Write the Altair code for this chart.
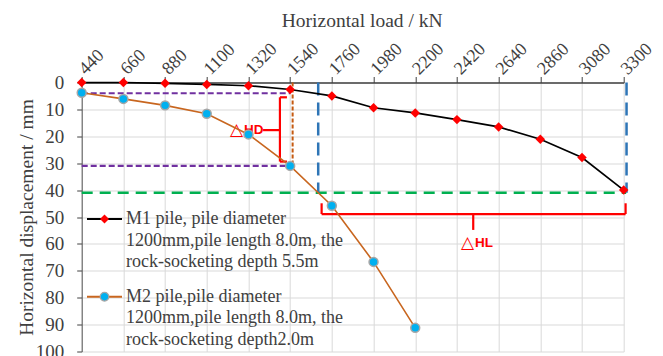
import altair as alt
import pandas as pd

# ---------------- data ----------------
loads = [440, 660, 880, 1100, 1320, 1540, 1760, 1980, 2200, 2420, 2640, 2860, 3080, 3300]
m1_disp = [0.0, 0.0, 0.3, 0.7, 1.2, 2.6, 5.0, 9.4, 11.3, 13.8, 16.5, 21.1, 27.9, 40.0]
m2_loads = [440, 660, 880, 1100, 1320, 1540, 1760, 1980, 2200]
m2_disp = [3.8, 6.1, 8.5, 11.6, 19.3, 31.0, 45.8, 66.7, 91.2]
y_ticks = [0, 10, 20, 30, 40, 50, 60, 70, 80, 90, 100]

series_labels = [
    "M1 pile, pile diameter\n1200mm,pile length 8.0m, the\nrock-socketing depth 5.5m",
    "M2 pile,pile diameter\n1200mm,pile length 8.0m, the\nrock-socketing depth2.0m",
]

# reference levels used in the annotations
hd_levels = [4.0, 31.0]          # purple dashed levels (M2 at 440 and 1540 kN)
hd_load = 1540
orange_x = 1553
green_level = 41.0
blue_x = [1688, 3315]
# bracket segments (x, x2, y, y2)
br_x = [1486, 1486, 1486, 1397, 1706, 1706, 3310, 2506]
br_x2 = [1486, 1523, 1523, 1486, 3310, 1706, 3310, 2506]
br_y = [5.5, 5.5, 29.4, 17.7, 48.9, 44.9, 44.9, 48.9]
br_y2 = [29.4, 5.5, 29.4, 17.7, 48.9, 48.9, 48.9, 54.8]
ann_x = [1291, 2510]
ann_y = [17.7, 59.6]
ann_sub = ["HD", "HL"]

# ---------------- styling ----------------
SERIF = "Liberation Serif"
W, H = 542, 269

xscale = alt.Scale(domain=[440, 3300], nice=False, zero=False)
yscale = alt.Scale(domain=[0, 100], reverse=True, nice=False, zero=False)

xaxis = alt.Axis(
    orient="top", values=loads, format="d", labelAngle=-45, labelAlign="left", labelBaseline="middle",
    labelPadding=5, labelFont=SERIF, labelFontSize=18, labelColor="#404040", labelOverlap=False,
    labelFlush=False, tickSize=6, tickColor="#404040", domainColor="#404040", domainWidth=1.5,
    grid=True, gridColor="#d9d9d9", title="Horizontal load / kN", titleFont=SERIF,
    titleFontSize=19.5, titleFontWeight="normal", titleColor="#404040",
    titleX=280, titleY=-56, titleAlign="center", titleBaseline="alphabetic", titleAngle=0,
)
yaxis = alt.Axis(
    orient="left", values=y_ticks, format="d", labelFont=SERIF, labelFontSize=19, labelColor="#404040",
    labelPadding=13, tickSize=5, tickColor="#404040", domainColor="#595959", labelOverlap=False,
    grid=True, gridColor="#d9d9d9", title="Horizontal displacement / mm", titleFont=SERIF,
    titleFontSize=19.5, titleFontWeight="normal", titleColor="#404040",
    titleX=-49.5, titleY=H / 2, titleAngle=-90, titleAlign="center", titleBaseline="alphabetic",
)


def X(field="x"):
    return alt.X(f"{field}:Q", scale=xscale, axis=xaxis)


def Y(field="y"):
    return alt.Y(f"{field}:Q", scale=yscale, axis=yaxis)


df1 = pd.DataFrame({"x": loads, "y": m1_disp})
df2 = pd.DataFrame({"x": m2_loads, "y": m2_disp})

m1_line = alt.Chart(df1).mark_line(color="#000000", strokeWidth=1.7).encode(x=X(), y=Y())
m1_pts = alt.Chart(df1).mark_point(shape="diamond", filled=True, color="#ff0000", size=90, opacity=1).encode(x=X(), y=Y())
m2_line = alt.Chart(df2).mark_line(color="#c8661f", strokeWidth=1.6).encode(x=X(), y=Y())
m2_pts = alt.Chart(df2).mark_point(shape="circle", filled=True, fill="#00b0f0", stroke="#a6a6a6",
                                   strokeWidth=1.5, size=80, opacity=1).encode(x=X(), y=Y())

# annotation lines
purple_df = pd.DataFrame({"x": [loads[0]] * 2, "x2": [hd_load] * 2, "y": hd_levels})
purple = alt.Chart(purple_df).mark_rule(color="#7030a0", strokeWidth=2.2, strokeDash=[6, 3]).encode(
    x=X(), x2="x2:Q", y=Y())
orange_df = pd.DataFrame({"x": [orange_x], "y": [0.0], "y2": [hd_levels[1]]})
orange = alt.Chart(orange_df).mark_rule(color="#c55a11", strokeWidth=2, strokeDash=[4, 2]).encode(
    x=X(), y=Y(), y2="y2:Q")
green_df = pd.DataFrame({"x": [loads[0]], "x2": [blue_x[1] - 2], "y": [green_level]})
green = alt.Chart(green_df).mark_rule(color="#00b050", strokeWidth=2.5, strokeDash=[11, 7]).encode(
    x=X(), x2="x2:Q", y=Y())
blue_df = pd.DataFrame({"x": blue_x, "y": [0.0, 0.0], "y2": [green_level, green_level]})
blue = alt.Chart(blue_df).mark_rule(color="#2e75b6", strokeWidth=2.5, strokeDash=[13, 7]).encode(
    x=X(), y=Y(), y2="y2:Q")
br_df = pd.DataFrame({"x": br_x, "x2": br_x2, "y": br_y, "y2": br_y2})
brackets = alt.Chart(br_df).mark_rule(color="#ff0000", strokeWidth=2.2).encode(
    x=X(), x2="x2:Q", y=Y(), y2="y2:Q")

ann_df = pd.DataFrame({"x": ann_x, "y": ann_y, "t": ["\u25b3", "\u25b3"], "s": ann_sub})
tri = alt.Chart(ann_df).mark_text(color="#ff0000", font="DejaVu Sans", fontSize=17, align="right",
                                  baseline="middle").encode(x=X(), y=Y(), text="t:N")
sub = alt.Chart(ann_df).mark_text(color="#ff0000", font="Liberation Sans", fontSize=13.5, fontWeight="bold",
                                  align="left", baseline="middle", dx=1).encode(x=X(), y=Y(), text="s:N")

# legend (manual, inside plot)
one = pd.DataFrame({"k": [0]})
leg_sym_y = [136.5, 214.2]
leg_layers = []
styles = [
    dict(line="#000000", shape="diamond", fill="#ff0000", stroke="#ff0000", sw=0, size=80),
    dict(line="#c8661f", shape="circle", fill="#00b0f0", stroke="#a6a6a6", sw=1.2, size=75),
]
for i, st in enumerate(styles):
    yy = leg_sym_y[i]
    leg_layers.append(alt.Chart(one).mark_rule(color=st["line"], strokeWidth=2).encode(
        x=alt.value(5.3), x2=alt.value(40.3), y=alt.value(yy)))
    leg_layers.append(alt.Chart(one).mark_point(shape=st["shape"], filled=True, fill=st["fill"],
                                                stroke=st["stroke"], strokeWidth=st["sw"], size=st["size"],
                                                opacity=1).encode(x=alt.value(22.8), y=alt.value(yy)))
    leg_layers.append(alt.Chart(pd.DataFrame({"t": [series_labels[i]]})).mark_text(
        font=SERIF, fontSize=18, color="#404040", align="left", baseline="middle",
        lineBreak="\n", lineHeight=21.7).encode(x=alt.value(44.3), y=alt.value(yy), text="t:N"))

chart = alt.layer(
    purple, orange, green, blue, brackets, tri, sub,
    m1_line, m2_line, m1_pts, m2_pts, *leg_layers
).properties(
    width=W, height=H,
    autosize=alt.AutoSizeParams(type="none"),
    padding={"left": 81.7, "top": 82.5, "right": 39.3, "bottom": 4.5},
).configure(background="white", font=SERIF).configure_view(stroke=None).configure_axis(
    labelFont=SERIF, titleFont=SERIF
)

chart.save("out.html", embed_options={"renderer": "svg", "actions": False})
